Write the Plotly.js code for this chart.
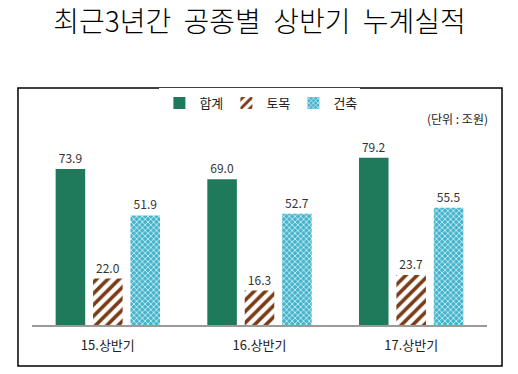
<!DOCTYPE html>
<html><head><meta charset="utf-8">
<script src="https://cdn.plot.ly/plotly-3.0.1.min.js"></script>
<style>html,body{margin:0;padding:0;background:#fff;}#chart{width:518px;height:374px;}</style>
</head><body><div id="chart"></div>
<script>
const categories = ['15.상반기', '16.상반기', '17.상반기'];
const totalValues = [73.9, 69.0, 79.2];   // 합계
const civilValues = [22.0, 16.3, 23.7];   // 토목
const archValues  = [51.9, 52.7, 55.5];   // 건축
const seriesNames = ['합계', '토목', '건축'];

const FONT = '"Noto Sans CJK KR", "Noto Sans", sans-serif';
const fmt = v => v.toFixed(1);

const traces = [
  {type:'bar', name:seriesNames[0], x:categories, y:totalValues,
   text:totalValues.map(fmt), textposition:'outside', cliponaxis:false,
   textfont:{family:FONT, size:12, color:'#333'},
   marker:{color:'#1f7a5c'}},
  {type:'bar', name:seriesNames[1], x:categories, y:civilValues,
   text:civilValues.map(fmt), textposition:'outside', cliponaxis:false,
   textfont:{family:FONT, size:12, color:'#333'},
   marker:{color:'#ffffff', pattern:{shape:'/', fgcolor:'#7a3c17', bgcolor:'#ffffff', size:8, solidity:0.45}}},
  {type:'bar', name:seriesNames[2], x:categories, y:archValues,
   text:archValues.map(fmt), textposition:'outside', cliponaxis:false,
   textfont:{family:FONT, size:12, color:'#333'},
   marker:{color:'#44b4cc', pattern:{shape:'x', fgcolor:'#ffffff', bgcolor:'#44b4cc', size:4, solidity:0.3}}}
];

const layout = {
  width:518, height:374,
  margin:{l:32, r:31, t:140, b:49},
  paper_bgcolor:'#fff', plot_bgcolor:'#fff',
  barmode:'group', bargap:0.26, bargroupgap:0.21,
  showlegend:true,
  legend:{orientation:'h', x:0.28, xanchor:'left', y:1.2, yanchor:'middle',
          font:{family:FONT, size:13, color:'#222'}, itemwidth:30, entrywidth:22, traceorder:'normal'},
  title:{text:'최근3년간  공종별  상반기  누계실적', x:0.5, xanchor:'center', xref:'paper',
         y:0.94, yref:'container', yanchor:'middle',
         font:{family:FONT, size:28, color:'#000', weight:300}},
  xaxis:{showline:true, linecolor:'#9a9a9a', linewidth:1.5, ticks:'',
         tickfont:{family:FONT, size:13, color:'#222'}, ticklabelstandoff:8, fixedrange:true},
  yaxis:{range:[0, 87.6], visible:false, showgrid:false, zeroline:false, fixedrange:true},
  shapes:[{type:'rect', xref:'paper', yref:'paper', x0:-0.0308, x1:1.033, y0:-0.2216, y1:1.281,
           line:{color:'#000', width:1.5}, fillcolor:'rgba(0,0,0,0)'}],
  annotations:[{text:'(단위 : 조원)', xref:'paper', yref:'paper', x:1.006, y:1.115,
                xanchor:'right', yanchor:'middle', showarrow:false,
                font:{family:FONT, size:12, color:'#222'}}]
};

Plotly.newPlot('chart', traces, layout, {staticPlot:true, displayModeBar:false});
</script></body></html>
